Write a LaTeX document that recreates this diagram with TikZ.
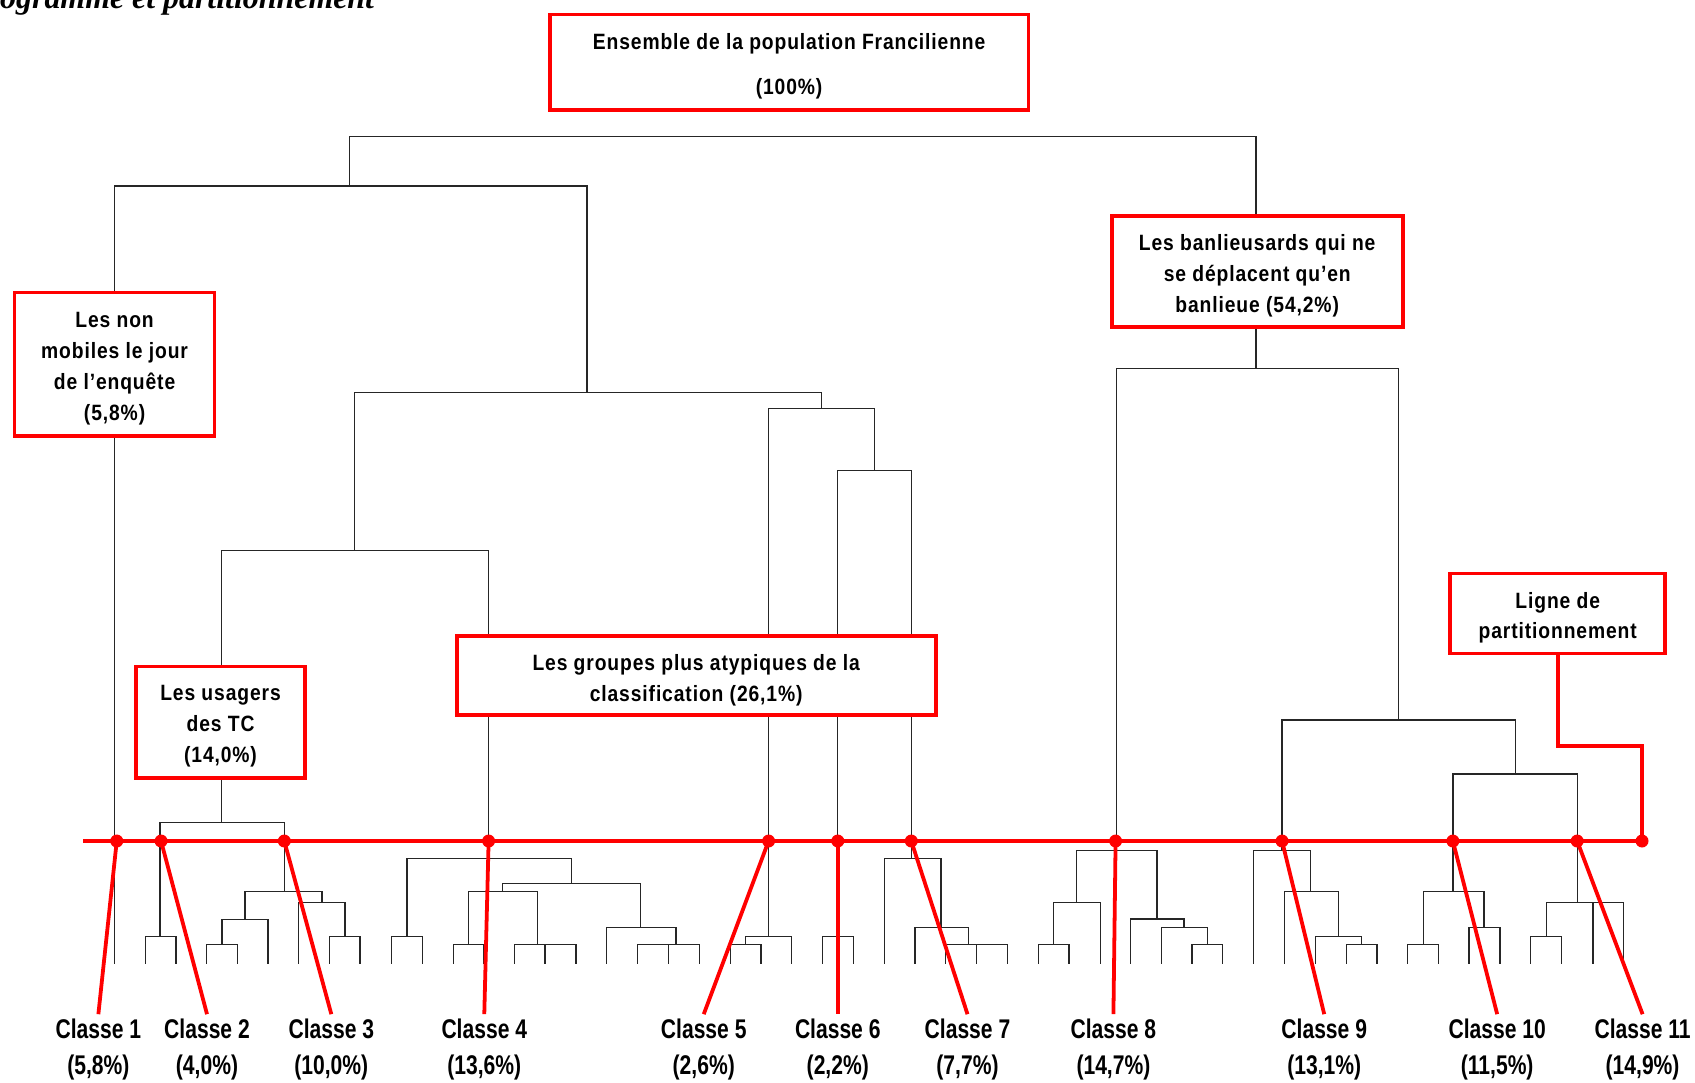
\documentclass[tikz,border=0pt]{standalone}
\usepackage{fontspec}
\newfontfamily\arn{Liberation Sans}[FakeStretch=0.78]
\newfontfamily\arb{Liberation Sans}[FakeStretch=0.87,LetterSpace=4]
\newfontfamily\tnr{Liberation Serif}
\begin{document}
\begin{tikzpicture}[x=1pt,y=-1pt,
  tree/.style={line width=1.2pt,draw=black!85,line cap=rect},
  rbox/.style={draw=red,line width=3.5pt,fill=white,inner sep=0pt},
  btxt/.style={inner sep=0pt,align=center,font=\arb\bfseries\fontsize{20.5}{28.5}\selectfont},
  redl/.style={draw=red,line width=3.5pt},
  clab/.style={anchor=base,inner sep=4pt,font=\arn\bfseries\fontsize{25}{30}\selectfont}]
\useasboundingbox[fill=white] (0,0) rectangle (1568,1001);

% title (cut off at top)
\node[anchor=base west,inner sep=0pt,font=\tnr\bfseries\itshape\fontsize{29.5}{30}\selectfont] (title) at (0,7.5) {ogramme et partitionnement};

% dendrogram horizontals
\foreach \y/\a/\b in {126/323/1162, 172/106/543, 363/328/760, 509/205/452, 761/148/263, 378/711/809, 435/775/843, 341/1033/1294, 666/1186/1402, 716/1344/1459,
866/134.4/162.8,
825/226.6/297.9, 850.4/205.4/247.9, 874/191.2/219.5, 835/276.3/319.1, 866/304.7/333,
794/376.5/528.8, 866/362.3/390.7, 817/464.8/592.7, 825/433.6/497.4, 874/419.4/447.1, 874/476.2/532.9, 858/561.2/625.4, 874/589.7/647.2,
866/689.6/732.5, 874/675.7/704,
866/761/789.3,
794/818.1/870.4, 858/846.4/895.8, 874/874.6/931.7,
787/996/1070.2, 835/974.7/1017.8, 874/960.8/989, 850/1046.1/1095.3, 858/1074.3/1116.9, 874/1102.6/1130.9,
787/1159.6/1212.1, 825/1188.4/1238.4, 866/1217/1259.7, 874/1245.7/1273.7,
825/1316.6/1372.8, 874/1302.3/1330.6, 858/1358.9/1387.6,
835/1430.6/1502, 866/1415.9/1444.6}
  \draw[tree] (\a,\y) -- (\b,\y);

% dendrogram verticals
\foreach \x/\a/\b in {323/126/172, 1162/126/341, 106/172/891, 543/172/363, 328/363/509, 205/509/761, 452/509/794, 760/363/378, 711/378/866, 809/378/435, 775/435/866, 843/435/794, 1033/341/787, 1294/341/666, 1186/666/787, 1402/666/716, 1344/716/825, 1459/716/835, 148/761/866, 263/761/825,
134.4/866/891, 162.8/866/891,
226.6/825/850.4, 297.9/825/835, 205.4/850.4/874, 247.9/850.4/891, 191.2/874/891, 219.5/874/891, 276.3/835/891, 319.1/835/866, 304.7/866/891, 333/866/891,
376.5/794/866, 528.8/794/817, 362.3/866/891, 390.7/866/891, 464.8/817/825, 592.7/817/858, 433.6/825/874, 497.4/825/874, 419.4/874/891, 447.1/874/891, 476.2/874/891, 504.1/874/891, 532.9/874/891, 561.2/858/891, 625.4/858/874, 589.7/874/891, 618.7/874/891, 647.2/874/891,
689.6/866/874, 732.5/866/891, 675.7/874/891, 704/874/891,
761/866/891, 789.3/866/891,
818.1/794/891, 870.4/794/858, 846.4/858/891, 895.8/858/874, 874.6/874/891, 903.2/874/891, 931.7/874/891,
996/787/835, 1070.2/787/850, 974.7/835/874, 1017.8/835/891, 960.8/874/891, 989/874/891, 1046.1/850/891, 1095.3/850/858, 1074.3/858/891, 1116.9/858/874, 1102.6/874/891, 1130.9/874/891,
1159.6/787/891, 1212.1/787/825, 1188.4/825/891, 1238.4/825/866, 1217/866/891, 1259.7/866/874, 1245.7/874/891, 1273.7/874/891,
1316.6/825/874, 1372.8/825/858, 1302.3/874/891, 1330.6/874/891, 1358.9/858/891, 1387.6/858/891,
1430.6/835/866, 1473.7/835/891, 1502/835/891, 1415.9/866/891, 1444.6/866/891}
  \draw[tree] (\x,\a) -- (\x,\b);

% red boxes
\node[rbox,minimum width=443pt,minimum height=88pt] (ens) at (730,57.5) {};
\node[btxt,font=\arb\bfseries\fontsize{20.5}{42}\selectfont] (ensT) at ([yshift=-4pt]ens.center) {Ensemble de la population Francilienne\\(100\%)};
\node[rbox,minimum width=185pt,minimum height=133pt] (nonmob) at (106,337) {};
\node[btxt] (nonmobT) at ([yshift=-4pt]nonmob.center) {Les non\\mobiles le jour\\de l’enquête\\(5,8\%)};
\node[rbox,minimum width=157pt,minimum height=103pt] (usag) at (204,668) {};
\node[btxt] (usagT) at ([yshift=-4pt]usag.center) {Les usagers\\des TC\\(14,0\%)};
\node[rbox,minimum width=443pt,minimum height=73pt] (grp) at (644,625) {};
\node[btxt] (grpT) at ([yshift=-4pt]grp.center) {Les groupes plus atypiques de la\\classification (26,1\%)};
\node[rbox,minimum width=269pt,minimum height=103pt] (banl) at (1163,251) {};
\node[btxt] (banlT) at ([yshift=-4pt]banl.center) {Les banlieusards qui ne\\se déplacent qu’en\\banlieue (54,2\%)};
\node[rbox,minimum width=199pt,minimum height=74pt] (lig) at (1441,567.5) {};
\node[btxt] (ligT) at ([yshift=-4pt]lig.center) {Ligne de\\partitionnement};

% partition dots
\foreach \n/\x in {1/108,2/149,3/263,4/452,5/711,6/775,7/843,8/1032,9/1186,10/1344,11/1459,12/1519}
  \coordinate (d\n) at (\x,778);
\coordinate (pstart) at (77,778);

% class labels
\foreach \n/\x/\p in {1/91/{5,8}, 2/191.5/{4,0}, 3/306.5/{10,0}, 4/448/{13,6}, 5/651/{2,6}, 6/775/{2,2}, 7/895/{7,7}, 8/1030/{14,7}, 9/1225/{13,1}, 10/1385/{11,5}, 11/1519.5/{14,9}}{
  \node[clab] (cl\n) at (\x,960.5) {Classe \n};
  \node[clab] (pc\n) at (\x,994) {(\p\%)};
}

% partition line and connectors
\draw[redl] (pstart) -- (d12);
\draw[redl,line join=miter] (lig.south) |- ([yshift=88pt]d12) -- (d12);
\foreach \n in {1,...,11}
  \draw[redl] (d\n) -- (cl\n.north);
\foreach \n in {1,...,12}
  \fill[red] (d\n) circle (6pt);
\end{tikzpicture}
\end{document}
